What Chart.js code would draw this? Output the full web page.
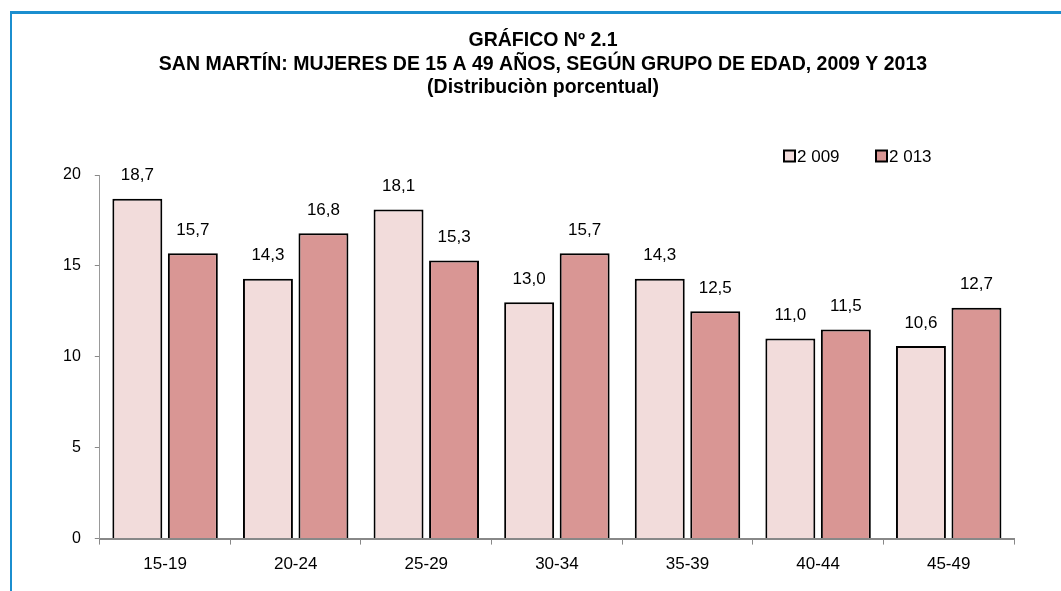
<!DOCTYPE html>
<html>
<head>
<meta charset="utf-8">
<script src="https://cdn.jsdelivr.net/npm/chart.js@4/dist/chart.umd.min.js"></script>
<style>
  html, body { margin: 0; padding: 0; background: #fff; }
  #wrap { position: relative; width: 1061px; height: 591px; overflow: hidden; }
  #marco { position: absolute; left: 10px; top: 11px; width: 1061px; height: 600px;
           border-top: 3px solid #1B8ECF; border-left: 2px solid #1B8ECF; }
  #grafico { position: absolute; left: 0; top: 0; }
</style>
</head>
<body>
<div id="wrap">
  <div id="marco"></div>
  <canvas id="grafico" width="1061" height="591"></canvas>
</div>
<script>
const grupos = ['15-19', '20-24', '25-29', '30-34', '35-39', '40-44', '45-49'];
const anio2009 = [18.7, 14.3, 18.1, 13.0, 14.3, 11.0, 10.6];
const anio2013 = [15.7, 16.8, 15.3, 15.7, 12.5, 11.5, 12.7];
const etiquetasSerie = ['2 009', '2 013'];
const marcasY = [0, 5, 10, 15, 20];
const titulo = [
    'GRÁFICO Nº 2.1',
    'SAN MARTÍN: MUJERES DE 15 A 49 AÑOS, SEGÚN GRUPO DE EDAD, 2009 Y 2013',
    '(Distribuciòn porcentual)'
];

const fuente = "'Liberation Sans Narrow', 'Arial Narrow', 'Liberation Sans', Arial, sans-serif";
Chart.defaults.font.family = fuente;
Chart.defaults.color = '#000';

// título centrado sobre el marco (no sobre el área del gráfico)
const tituloPropio = {
    id: 'tituloPropio',
    afterDraw(chart) {
        const ctx = chart.ctx;
        ctx.save();
        ctx.font = 'bold 19.5px ' + fuente;
        ctx.fillStyle = '#000';
        ctx.textAlign = 'center';
        ctx.textBaseline = 'middle';
        titulo.forEach((linea, i) => ctx.fillText(linea, 543, 41 + i * 23.5));
        ctx.restore();
    }
};

// etiquetas de valor encima de cada barra
const etiquetasValor = {
    id: 'etiquetasValor',
    afterDatasetsDraw(chart) {
        const ctx = chart.ctx;
        ctx.save();
        ctx.font = '17px ' + fuente;
        ctx.fillStyle = '#000';
        ctx.textAlign = 'center';
        ctx.textBaseline = 'middle';
        chart.data.datasets.forEach((ds, i) => {
            chart.getDatasetMeta(i).data.forEach((bar, j) => {
                ctx.fillText(ds.data[j].toFixed(1).replace('.', ','), bar.x, bar.y - 23);
            });
        });
        ctx.restore();
    }
};

// leyenda propia, arriba a la derecha del área del gráfico
const leyenda = {
    id: 'leyenda',
    afterDraw(chart) {
        const ctx = chart.ctx;
        const area = chart.chartArea;
        const y = area.top - 19;
        let x = area.right - 230;
        ctx.save();
        ctx.font = '17px ' + fuente;
        ctx.textBaseline = 'middle';
        ctx.textAlign = 'left';
        chart.data.datasets.forEach(ds => {
            ctx.fillStyle = ds.backgroundColor;
            ctx.fillRect(x, y - 5.5, 11, 11);
            ctx.strokeStyle = '#000';
            ctx.lineWidth = 2;
            ctx.strokeRect(x, y - 5.5, 11, 11);
            ctx.fillStyle = '#000';
            ctx.fillText(ds.label, x + 13, y + 1);
            x += 92;
        });
        ctx.restore();
    }
};

new Chart(document.getElementById('grafico').getContext('2d'), {
    type: 'bar',
    data: {
        labels: grupos,
        datasets: [
            { label: etiquetasSerie[0], data: anio2009, backgroundColor: '#F2DCDB', borderColor: '#000', borderWidth: 2 },
            { label: etiquetasSerie[1], data: anio2013, backgroundColor: '#D99694', borderColor: '#000', borderWidth: 2 }
        ]
    },
    options: {
        responsive: false,
        animation: false,
        categoryPercentage: 0.85,
        barPercentage: 0.9,
        layout: { padding: { left: 49, right: 47, top: 175, bottom: 6 } },
        scales: {
            x: {
                grid: { display: true, drawOnChartArea: false, drawTicks: true, tickLength: 6, color: '#888', offset: true },
                border: { display: true, color: '#888', width: 2 },
                ticks: { font: { size: 17 }, padding: 10, color: '#000' }
            },
            y: {
                min: 0, max: 20,
                afterBuildTicks(axis) { axis.ticks = marcasY.map(v => ({ value: v })); },
                grid: { display: true, drawOnChartArea: false, drawTicks: true, tickLength: 5, color: '#888' },
                border: { display: true, color: '#999', width: 1, dash: [4, 3] },
                ticks: { font: { size: 16 }, padding: 14, color: '#000' }
            }
        },
        plugins: {
            title: { display: false },
            legend: { display: false },
            tooltip: { enabled: false }
        }
    },
    plugins: [tituloPropio, etiquetasValor, leyenda]
});
</script>
</body>
</html>
